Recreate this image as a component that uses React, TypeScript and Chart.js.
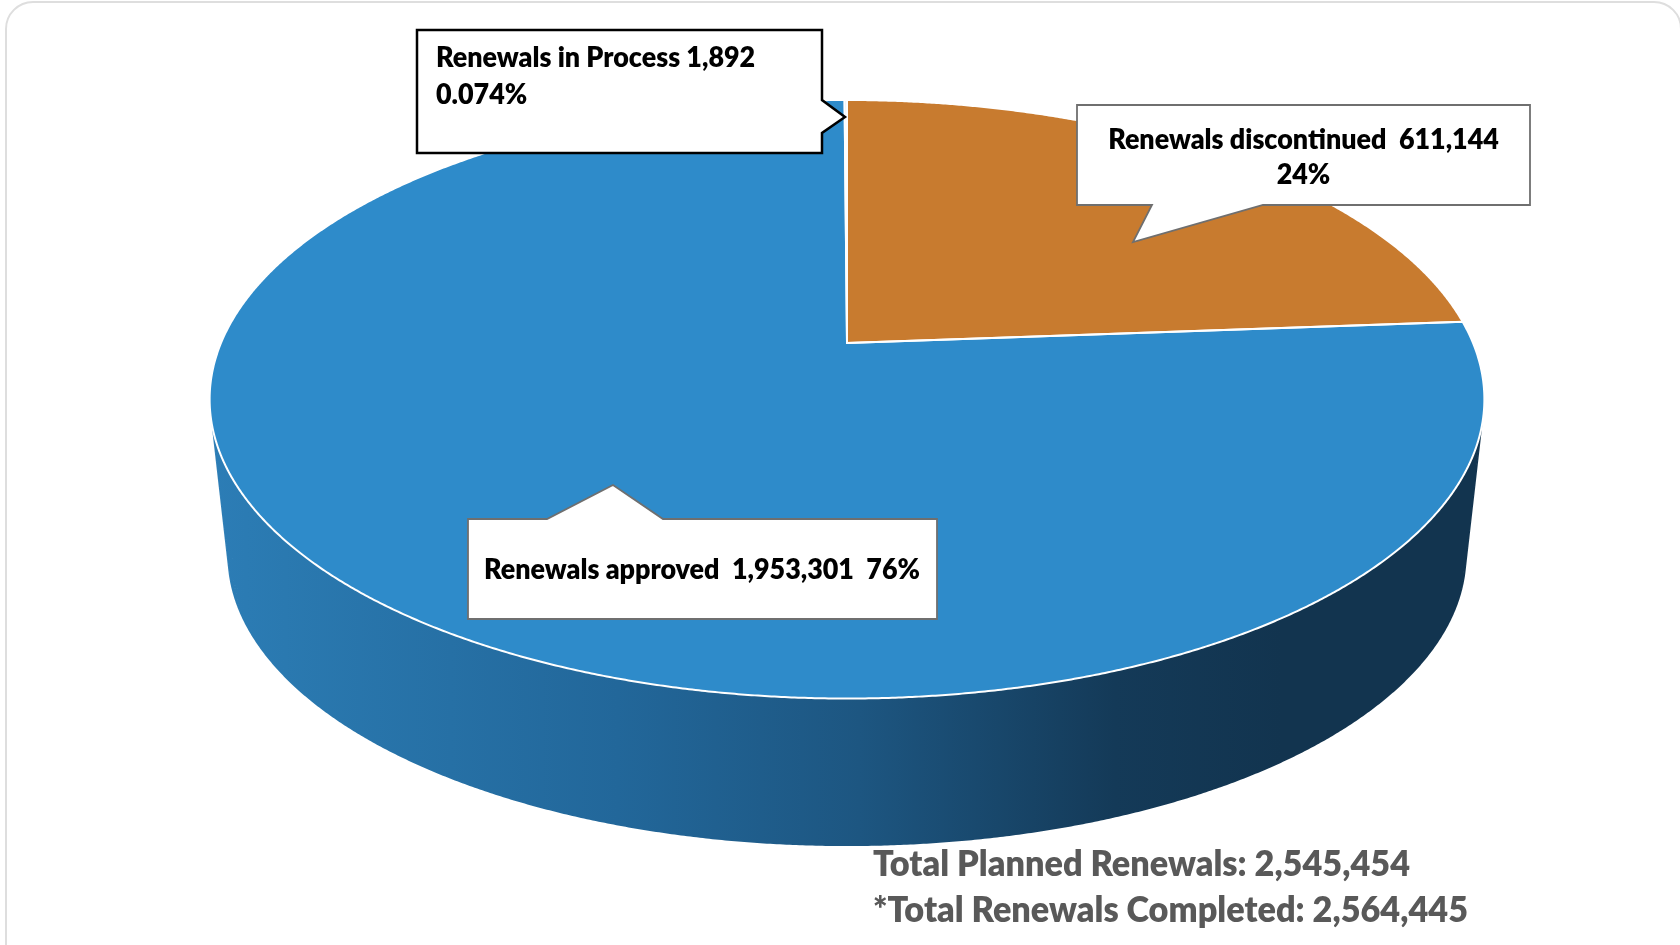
import React, { useEffect, useRef } from "react";
import { Chart, registerables } from "chart.js";

Chart.register(...registerables);

// ---------- data ----------
const categories = ["Renewals discontinued", "Renewals approved", "Renewals in Process"];
const values = [611144, 1953301, 1892];
const percentLabels = ["24%", "76%", "0.074%"];
const totalLines = ["Total Planned Renewals: 2,545,454", "*Total Renewals Completed: 2,564,445"];

// ---------- styles ----------
const topColors = ["#c87b2f", "#2e8bca", "#a9c4d6"];
const sideStops: [number, string][][] = [
  [[0, "#a8631f"], [0.5, "#8a4f18"], [1, "#5e3510"]],
  [[0, "#2c7db6"], [0.06, "#2a79b0"], [0.32, "#22679a"], [0.51, "#1d5681"], [0.71, "#143a58"], [0.84, "#12344f"], [1, "#12344f"]],
  [[0, "#8c9aa4"], [1, "#4a5660"]],
];

// perspective parameters (relative to the pie radius computed by Chart.js)
const PA = 2.0867; // horizontal stretch
const PB = 0.9623; // vertical stretch
const PC = 0.188; // perspective foreshortening
const VY = 18.75; // vertical vanishing point (in radii below centre)
const SHRINK = 0.972; // bottom face scale toward vanishing point

const FONT = 'Lato, "Open Sans", "DejaVu Sans", sans-serif';
const WEIGHT = "800";

const fmt = (n: number) => n.toLocaleString("en-US");

function proj(cx: number, cy: number, r: number, a: number): [number, number] {
  const u = Math.cos(a);
  const v = Math.sin(a);
  const w = 1 - PC * v;
  return [cx + (PA * r * u) / w, cy + (PB * r * v) / w];
}
function lower(cx: number, cy: number, r: number, p: [number, number]): [number, number] {
  const vy = cy + VY * r;
  return [cx + SHRINK * (p[0] - cx), vy + SHRINK * (p[1] - vy)];
}

function drawText(
  ctx: CanvasRenderingContext2D,
  text: string,
  x: number,
  y: number,
  px: number,
  sx: number,
  color: string,
  align: "left" | "center"
) {
  ctx.save();
  ctx.font = `${WEIGHT} ${px}px ${FONT}`;
  const w = ctx.measureText(text).width * sx;
  const x0 = align === "center" ? x - w / 2 : x;
  ctx.translate(x0, y);
  ctx.scale(sx, 1);
  ctx.textAlign = "left";
  ctx.textBaseline = "alphabetic";
  ctx.fillStyle = color;
  ctx.fillText(text, 0, 0);
  ctx.restore();
}

function calloutPath(ctx: CanvasRenderingContext2D, pts: number[][]) {
  ctx.beginPath();
  pts.forEach((p, i) => (i === 0 ? ctx.moveTo(p[0], p[1]) : ctx.lineTo(p[0], p[1])));
  ctx.closePath();
}

const pie3d = {
  id: "pie3d",
  beforeDatasetsDraw(chart: any) {
    const ctx: CanvasRenderingContext2D = chart.ctx;
    const arcs = chart.getDatasetMeta(0).data;
    if (!arcs.length) return false;
    const { x: cx, y: cy, outerRadius: r } = arcs[0].getProps(["x", "y", "outerRadius"], true);
    const step = Math.PI / 720;

    // side walls
    arcs.forEach((arc: any, i: number) => {
      const { startAngle, endAngle } = arc.getProps(["startAngle", "endAngle"], true);
      const n = Math.max(2, Math.ceil((endAngle - startAngle) / step));
      ctx.beginPath();
      let any = false;
      for (let k = 0; k < n; k++) {
        const a0 = startAngle + ((endAngle - startAngle) * k) / n;
        const a1 = startAngle + ((endAngle - startAngle) * (k + 1)) / n;
        const t0 = proj(cx, cy, r, a0);
        const t1 = proj(cx, cy, r, a1);
        const b0 = lower(cx, cy, r, t0);
        const b1 = lower(cx, cy, r, t1);
        const cross = (t1[0] - t0[0]) * (b0[1] - t0[1]) - (t1[1] - t0[1]) * (b0[0] - t0[0]);
        if (cross >= 0) continue;
        ctx.moveTo(t0[0], t0[1]);
        ctx.lineTo(t1[0], t1[1]);
        ctx.lineTo(b1[0], b1[1]);
        ctx.lineTo(b0[0], b0[1]);
        ctx.closePath();
        any = true;
      }
      if (any) {
        const g = ctx.createLinearGradient(cx - PA * r * 1.02, 0, cx + PA * r * 1.02, 0);
        sideStops[i % sideStops.length].forEach(([o, c]) => g.addColorStop(o, c));
        ctx.fillStyle = g;
        ctx.fill();
      }
    });

    // top faces
    const slicePath = (arc: any) => {
      const { startAngle, endAngle } = arc.getProps(["startAngle", "endAngle"], true);
      const n = Math.max(2, Math.ceil((endAngle - startAngle) / step));
      ctx.beginPath();
      ctx.moveTo(cx, cy);
      for (let k = 0; k <= n; k++) {
        const a = startAngle + ((endAngle - startAngle) * k) / n;
        const p = proj(cx, cy, r, a);
        ctx.lineTo(p[0], p[1]);
      }
      ctx.closePath();
    };
    arcs.forEach((arc: any, i: number) => {
      slicePath(arc);
      ctx.fillStyle = topColors[i % topColors.length];
      ctx.fill();
    });
    ctx.save();
    ctx.lineJoin = "round";
    ctx.strokeStyle = "#ffffff";
    ctx.lineWidth = 2;
    arcs.forEach((arc: any) => {
      slicePath(arc);
      ctx.stroke();
    });
    ctx.restore();
    return false;
  },
  afterDraw(chart: any) {
    const ctx: CanvasRenderingContext2D = chart.ctx;
    const cPx = 28;
    ctx.save();
    ctx.font = `${WEIGHT} ${cPx}px ${FONT}`;
    const approvedText = `${categories[1]}  ${fmt(values[1])}  ${percentLabels[1]}`;
    const sx = 436 / ctx.measureText(approvedText).width;
    ctx.restore();

    // callout: in process
    ctx.save();
    calloutPath(ctx, [[417, 30], [822, 30], [822, 100], [845, 117], [822, 133], [822, 153], [417, 153]]);
    ctx.fillStyle = "#ffffff";
    ctx.fill();
    ctx.lineWidth = 2.5;
    ctx.lineJoin = "miter";
    ctx.strokeStyle = "#000000";
    ctx.stroke();
    ctx.restore();
    drawText(ctx, `${categories[2]} ${fmt(values[2])}`, 436, 67, cPx, sx, "#000", "left");
    drawText(ctx, percentLabels[2], 436, 104, cPx, sx, "#000", "left");

    // callout: discontinued
    ctx.save();
    calloutPath(ctx, [[1077, 105], [1530, 105], [1530, 205], [1263, 205], [1133, 242], [1152, 205], [1077, 205]]);
    ctx.fillStyle = "#ffffff";
    ctx.fill();
    ctx.lineWidth = 1.8;
    ctx.strokeStyle = "#6f6f6f";
    ctx.stroke();
    ctx.restore();
    drawText(ctx, `${categories[0]}  ${fmt(values[0])}`, 1303.5, 149, cPx, sx, "#000", "center");
    drawText(ctx, percentLabels[0], 1303.5, 184, cPx, sx, "#000", "center");

    // callout: approved
    ctx.save();
    calloutPath(ctx, [[468, 519], [547, 519], [613, 485], [663, 519], [937, 519], [937, 619], [468, 619]]);
    ctx.fillStyle = "#ffffff";
    ctx.fill();
    ctx.lineWidth = 1.8;
    ctx.strokeStyle = "#6f6f6f";
    ctx.stroke();
    ctx.restore();
    drawText(ctx, approvedText, 484, 579, cPx, sx, "#000", "left");

    // totals
    const tPx = 36;
    ctx.save();
    ctx.font = `${WEIGHT} ${tPx}px ${FONT}`;
    const sx2 = 537 / ctx.measureText(totalLines[0]).width;
    ctx.restore();
    drawText(ctx, totalLines[0], 873, 876, tPx, sx2, "#595959", "left");
    drawText(ctx, totalLines[1], 873, 922, tPx, sx2, "#595959", "left");
  },
};

export default function App() {
  const ref = useRef<HTMLCanvasElement | null>(null);
  useEffect(() => {
    document.body.style.margin = "0";
    const canvas = ref.current;
    if (!canvas) return;
    const chart = new Chart(canvas, {
      type: "pie",
      data: {
        labels: categories,
        datasets: [{ data: values, backgroundColor: topColors, borderWidth: 0 }],
      },
      options: {
        responsive: false,
        animation: false,
        devicePixelRatio: 1,
        layout: { padding: { left: 547, right: 533, top: 43, bottom: 302 } },
        plugins: { legend: { display: false }, tooltip: { enabled: false } },
      },
      plugins: [pie3d as any],
    } as any);
    return () => chart.destroy();
  }, []);
  return (
    <div style={{ position: "fixed", left: 0, top: 0, width: 1680, height: 945, overflow: "hidden", background: "#ffffff" }}>
      <div
        style={{
          position: "absolute",
          left: 5,
          top: 1,
          width: 1677,
          height: 975,
          border: "2px solid #dedede",
          borderRadius: 28,
          boxSizing: "border-box",
        }}
      />
      <canvas
        ref={ref}
        width={1680}
        height={945}
        style={{ position: "absolute", left: 0, top: 0, width: 1680, height: 945, display: "block" }}
      />
    </div>
  );
}
